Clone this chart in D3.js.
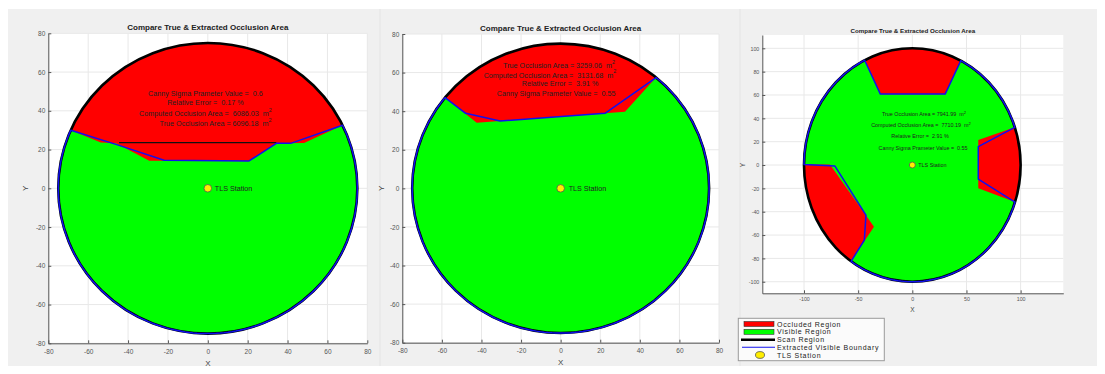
<!DOCTYPE html>
<html>
<head>
<meta charset="utf-8">
<script src="https://cdn.jsdelivr.net/npm/d3@7"></script>
<style>
  body { margin: 0; background: #ffffff; }
  text { font-family: "Liberation Sans", Arial, Helvetica, sans-serif; white-space: pre; }
</style>
</head>
<body>
<svg id="fig" width="1105" height="374"></svg>
<script>
// ---------- tick values ----------
const ticks80 = [-80, -60, -40, -20, 0, 20, 40, 60, 80];
const xTicks100 = [-100, -50, 0, 50, 100];
const yTicks100 = [-100, -80, -60, -40, -20, 0, 20, 40, 60, 80, 100];

// ---------- scan radii and station ----------
const scanRadiusA = 75;
const scanRadiusB = 75;
const scanRadiusC = 100;
const station = [0, 0];

// ---------- case A (sigma 0.6) ----------
const occlusionA_true = [[-68.7, 30.0], [-53.7, 23.6], [-46.0, 23.2], [-29.4, 14.2], [20.7, 14.1], [34.4, 23.2], [48.3, 23.4], [67.6, 32.5]];
const occlusionA_extracted = [[-68.7, 30.0], [-45.3, 22.4], [-21.9, 14.5], [20.7, 14.1], [34.4, 23.2], [41.6, 23.2], [67.6, 32.5]];
const scanLineA = [[-44.5, 23.6], [34.4, 23.6]];
const labelsA = [
  "Canny Sigma Prameter Value =  0.6",
  "Relative Error =  0.17 %",
  "Computed Occlusion Area =  6086.03  m^2",
  "True Occlusion Area = 6096.18  m^2"
];

// ---------- case B (sigma 0.55, single occlusion) ----------
const occlusionB_true = [[-58.4, 47.0], [-42.4, 34.0], [32.5, 39.7], [48.2, 57.4]];
const occlusionB_extracted = [[-58.4, 47.0], [-48.0, 38.9], [-30.6, 34.9], [22.4, 38.9], [48.2, 57.4]];
const labelsB = [
  "True Occlusion Area = 3259.06  m^2",
  "Computed Occlusion Area =  3131.68  m^2",
  "Relative Error =  3.91 %",
  "Canny Sigma Prameter Value =  0.55"
];

// ---------- case C (sigma 0.55, three occlusions) ----------
const occlusionC1_true = [[94.6, 32.3], [60.9, 21.4], [60.9, -20.0], [94.8, -31.7]];
const occlusionC1_extracted = [[94.6, 32.3], [60.9, 15.7], [60.9, -12.0], [94.8, -31.7]];
const occlusionC2_true = [[-44.0, 89.8], [-28.9, 60.6], [30.8, 60.6], [44.8, 89.4]];
const occlusionC2_extracted = [[-44.0, 89.8], [-29.5, 60.8], [30.3, 60.8], [44.8, 89.4]];
const occlusionC3_true = [[-56.5, -82.5], [-35.4, -52.9], [-76.0, 0.5], [-100.0, 0.5]];
const occlusionC3_extracted = [[-56.5, -82.5], [-44.3, -64.3], [-42.8, -42.9], [-71.4, -0.9], [-100.0, 0.5]];
const labelsC = [
  "True Occlusion Area = 7941.99  m^2",
  "Computed Occlusion Area =  7710.19  m^2",
  "Relative Error =  2.91 %",
  "Canny Sigma Prameter Value =  0.55"
];

// ---------- legend ----------
const legendLabels = ["Occluded Region", "Visible Region", "Scan Region", "Extracted Visible Boundary", "TLS Station"];

const titleText = "Compare True & Extracted Occlusion Area";

const RED = "#ff0000", GREEN = "#00ff00", BLUE = "#1010ee", YELLOW = "#ffee00";

const svg = d3.select("#fig");

// figure background
svg.append("rect").attr("x", 8).attr("y", 9).attr("width", 1089).attr("height", 357).attr("fill", "#f0f0f0");
[380, 740].forEach(sx => svg.append("line").attr("x1", sx).attr("x2", sx).attr("y1", 9).attr("y2", 366)
  .attr("stroke", "#e4e4e4").attr("stroke-width", 1));

// sample the scan circle counter-clockwise between two angles (endpoints excluded)
function arcPoints(a0, a1, r) {
  while (a1 <= a0) a1 += 2 * Math.PI;
  const steps = Math.max(8, Math.ceil((a1 - a0) / (Math.PI / 120)));
  return d3.range(1, steps).map(i => {
    const a = a0 + (a1 - a0) * i / steps;
    return [r * Math.cos(a), r * Math.sin(a)];
  });
}
const ang = p => Math.atan2(p[1], p[0]);

function addLabel(sel, str, fs) {
  const parts = str.split("^2");
  sel.append("tspan").text(parts[0]);
  if (parts.length > 1) {
    sel.append("tspan").attr("dy", -fs * 0.45).attr("font-size", fs * 0.75).text("2");
  }
}

function drawPanel(cfg) {
  const x = d3.scaleLinear().domain(cfg.xDomain).range([cfg.left, cfg.right]);
  const y = d3.scaleLinear().domain(cfg.yDomain).range([cfg.bottom, cfg.top]);
  const g = svg.append("g");
  const line = d3.line().x(d => x(d[0])).y(d => y(d[1]));
  const closed = d3.line().x(d => x(d[0])).y(d => y(d[1])).curve(d3.curveLinearClosed);

  // axes background
  g.append("rect").attr("x", cfg.left).attr("y", cfg.top)
    .attr("width", cfg.right - cfg.left).attr("height", cfg.bottom - cfg.top).attr("fill", "#ffffff");

  // grid
  cfg.xTicks.forEach(t => g.append("line").attr("x1", x(t)).attr("x2", x(t)).attr("y1", cfg.top).attr("y2", cfg.bottom)
    .attr("stroke", "#e8e8e8").attr("stroke-width", 1));
  cfg.yTicks.forEach(t => g.append("line").attr("y1", y(t)).attr("y2", y(t)).attr("x1", cfg.left).attr("x2", cfg.right)
    .attr("stroke", "#e8e8e8").attr("stroke-width", 1));

  // axes
  const fmt = d => String(d);
  const ax = g.append("g").attr("transform", `translate(0,${cfg.bottom})`)
    .call(d3.axisBottom(x).tickValues(cfg.xTicks).tickFormat(fmt).tickSizeInner(-3).tickSizeOuter(0).tickPadding(cfg.xPad));
  const ay = g.append("g").attr("transform", `translate(${cfg.left},0)`)
    .call(d3.axisLeft(y).tickValues(cfg.yTicks).tickFormat(fmt).tickSizeInner(-3).tickSizeOuter(0).tickPadding(3));
  [ax, ay].forEach(a => {
    a.select(".domain").attr("stroke", "#555").attr("stroke-width", 1);
    a.selectAll(".tick line").attr("stroke", "#555");
    a.selectAll(".tick text").attr("font-size", cfg.tickFs).attr("fill", "#555")
      .attr("font-family", "\"Liberation Sans\", Arial, sans-serif");
  });

  const R = cfg.radius;
  const cx = x(0), cy = y(0);
  const rx = x(R) - x(0), ry = y(0) - y(R);

  // visible region (whole scan disc first)
  g.append("ellipse").attr("cx", cx).attr("cy", cy).attr("rx", rx).attr("ry", ry).attr("fill", GREEN);

  // occluded regions: true boundary closed along the scan circle
  cfg.regions.forEach(reg => {
    const t = reg.truth;
    const pts = t.concat(arcPoints(ang(t[t.length - 1]), ang(t[0]), R));
    g.append("path").attr("d", closed(pts)).attr("fill", RED);
  });

  // scan region outline
  g.append("ellipse").attr("cx", cx).attr("cy", cy).attr("rx", rx).attr("ry", ry)
    .attr("fill", "none").attr("stroke", "#000").attr("stroke-width", 2.6);
  if (cfg.scanLine) {
    g.append("path").attr("d", line(cfg.scanLine)).attr("stroke", "#111").attr("stroke-width", 1.2).attr("fill", "none");
  }

  // extracted visible boundary: extracted edges joined by the visible arcs
  const regs = cfg.regions;
  const bpts = [regs[0].ext[0]];
  regs.forEach((r, i) => {
    const nxt = regs[(i + 1) % regs.length];
    bpts.push(...arcPoints(ang(r.ext[0]), ang(nxt.ext[nxt.ext.length - 1]), R));
    bpts.push(...nxt.ext.slice().reverse());
  });
  bpts.pop();
  g.append("path").attr("d", closed(bpts)).attr("fill", "none").attr("stroke", BLUE).attr("stroke-width", 1.5)
    .attr("stroke-linejoin", "round");

  // station
  g.append("circle").attr("cx", x(station[0])).attr("cy", y(station[1])).attr("r", cfg.stationR)
    .attr("fill", YELLOW).attr("stroke", "#555").attr("stroke-width", 0.8);
  g.append("text").attr("x", x(station[0]) + cfg.stationDx).attr("y", y(station[1]))
    .attr("dominant-baseline", "central").attr("font-size", cfg.textFs).attr("fill", "#222").text("TLS Station");

  // statistics text
  cfg.labels.forEach((s, i) => {
    const pos = cfg.labelPos[i];
    const t = g.append("text").attr("x", x(pos[0])).attr("y", y(pos[1]))
      .attr("text-anchor", "middle").attr("dominant-baseline", "central")
      .attr("font-size", cfg.textFs).attr("fill", "#222");
    addLabel(t, s, cfg.textFs);
  });

  // title and axis labels
  g.append("text").attr("x", (cfg.left + cfg.right) / 2).attr("y", cfg.titleY)
    .attr("text-anchor", "middle").attr("font-size", cfg.titleFs).attr("font-weight", "bold").attr("fill", "#222")
    .text(titleText);
  g.append("text").attr("x", x(0)).attr("y", cfg.xLabelY).attr("text-anchor", "middle")
    .attr("dominant-baseline", "central").attr("font-size", cfg.labelFs).attr("fill", "#444").text("X");
  g.append("text").attr("transform", `translate(${cfg.yLabelX},${y(0)}) rotate(-90)`).attr("text-anchor", "middle")
    .attr("dominant-baseline", "central").attr("font-size", cfg.labelFs).attr("fill", "#444").text("Y");
}

drawPanel({
  left: 48.3, right: 367.3, top: 33.3, bottom: 343.3,
  xDomain: [-80, 80], yDomain: [-80, 80], xTicks: ticks80, yTicks: ticks80,
  xPad: 6, tickFs: 6.5, radius: scanRadiusA,
  regions: [{ truth: occlusionA_true, ext: occlusionA_extracted }],
  scanLine: scanLineA,
  labels: labelsA, labelPos: [[-1.2, 49.2], [-1.2, 44.5], [-1.2, 38.7], [3.9, 33.5]],
  textFs: 7.2, stationR: 3.8, stationDx: 7,
  titleY: 30, titleFs: 8, xLabelY: 363, yLabelX: 25, labelFs: 8
});

drawPanel({
  left: 402.3, right: 719, top: 34, bottom: 342.7,
  xDomain: [-80, 80], yDomain: [-80, 80], xTicks: ticks80, yTicks: ticks80,
  xPad: 6, tickFs: 6.5, radius: scanRadiusB,
  regions: [{ truth: occlusionB_true, ext: occlusionB_extracted }],
  labels: labelsB, labelPos: [[-0.8, 63.8], [-5.4, 58.9], [-0.3, 54.5], [-2.3, 49.3]],
  textFs: 7.2, stationR: 3.8, stationDx: 8,
  titleY: 31, titleFs: 8, xLabelY: 362, yLabelX: 381.7, labelFs: 8
});

drawPanel({
  left: 762.3, right: 1063.3, top: 35, bottom: 293.3,
  xDomain: [-138.5, 139.4], yDomain: [-109.9, 111.4], xTicks: xTicks100, yTicks: yTicks100,
  xPad: 4, tickFs: 5.3, radius: scanRadiusC,
  regions: [
    { truth: occlusionC1_true, ext: occlusionC1_extracted },
    { truth: occlusionC2_true, ext: occlusionC2_extracted },
    { truth: occlusionC3_true, ext: occlusionC3_extracted }
  ],
  labels: labelsC, labelPos: [[10.8, 43.7], [8.0, 34.3], [7.1, 24.9], [9.9, 14.8]],
  textFs: 5.4, stationR: 3, stationDx: 6,
  titleY: 33, titleFs: 6.2, xLabelY: 309, yLabelX: 742.3, labelFs: 6.5
});

// legend
const lg = svg.append("g");
lg.append("rect").attr("x", 738.3).attr("y", 318.3).attr("width", 146).attr("height", 42.4)
  .attr("fill", "#fbfbfb").attr("stroke", "#9a9a9a").attr("stroke-width", 1);
const rowY = [324, 331.8, 339.7, 347.3, 355];
lg.append("rect").attr("x", 744).attr("y", rowY[0] - 2.5).attr("width", 30).attr("height", 5)
  .attr("fill", RED).attr("stroke", "#333").attr("stroke-width", 0.6);
lg.append("rect").attr("x", 744).attr("y", rowY[1] - 2.5).attr("width", 30).attr("height", 5)
  .attr("fill", GREEN).attr("stroke", "#333").attr("stroke-width", 0.6);
lg.append("line").attr("x1", 741).attr("x2", 775).attr("y1", rowY[2]).attr("y2", rowY[2])
  .attr("stroke", "#000").attr("stroke-width", 2.4);
lg.append("line").attr("x1", 742).attr("x2", 775).attr("y1", rowY[3]).attr("y2", rowY[3])
  .attr("stroke", BLUE).attr("stroke-width", 1.1);
lg.append("ellipse").attr("cx", 760).attr("cy", rowY[4]).attr("rx", 4.5).attr("ry", 3.4)
  .attr("fill", YELLOW).attr("stroke", "#555").attr("stroke-width", 0.8);
legendLabels.forEach((s, i) => {
  lg.append("text").attr("x", 777).attr("y", rowY[i]).attr("dominant-baseline", "central")
    .attr("font-size", 7).attr("letter-spacing", 0.7).attr("fill", "#222").text(s);
});
</script>
</body>
</html>
